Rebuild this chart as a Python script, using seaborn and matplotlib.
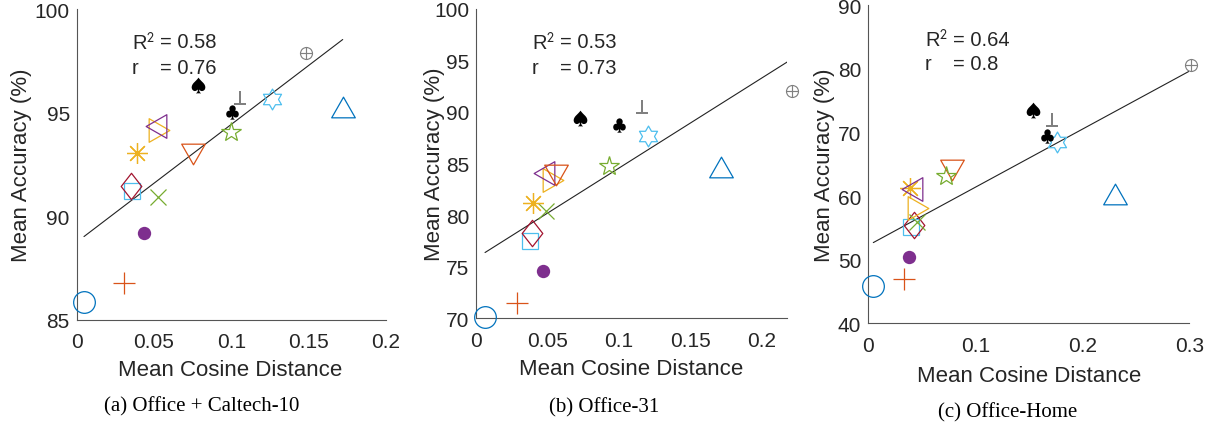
import numpy as np
import pandas as pd
import seaborn as sns
import matplotlib
matplotlib.use('Agg')
import matplotlib.pyplot as plt
from matplotlib.path import Path
from matplotlib.ticker import FuncFormatter

# one entry per method, same order in every panel
# circle, plus, dot, square, diamond, x, asterisk, tri-right, tri-left, tri-down,
# pentagram, hexagram, spade, club, perp, oplus, tri-up
x_oc10 = [0.0047, 0.0308, 0.0437, 0.0360, 0.0351, 0.0528, 0.0390, 0.0530, 0.0511, 0.0750,
          0.0998, 0.1260, 0.0787, 0.1003, 0.1056, 0.1483, 0.1720]
y_oc10 = [85.86, 86.75, 89.21, 91.22, 91.46, 90.93, 93.03, 94.18, 94.34, 92.99,
          94.08, 95.65, 96.33, 95.01, 95.72, 97.87, 95.27]

x_o31 = [0.0061, 0.0283, 0.0469, 0.0376, 0.0391, 0.0488, 0.0399, 0.0539, 0.0476, 0.0560,
         0.0932, 0.1200, 0.0726, 0.1001, 0.1158, 0.2209, 0.1714]
y_o31 = [70.07, 71.46, 74.59, 77.45, 78.28, 80.42, 81.13, 83.40, 84.10, 83.85,
         84.73, 87.70, 89.39, 88.74, 90.46, 92.07, 84.63]

x_oh = [0.0047, 0.0336, 0.0380, 0.0398, 0.0429, 0.0452, 0.0390, 0.0464, 0.0405, 0.0779,
        0.0726, 0.1761, 0.1542, 0.1673, 0.1714, 0.3016, 0.2306]
y_oh = [45.82, 46.97, 50.47, 55.22, 55.49, 55.88, 61.27, 58.13, 61.12, 64.06,
        63.10, 68.46, 73.54, 69.50, 71.97, 80.66, 60.33]

r2_vals = ["0.58", "0.53", "0.64"]
r_vals = ["0.76", "0.73", "0.8"]
captions = ["(a) Office + Caltech-10", "(b) Office-31", "(c) Office-Home"]
xlims = [(0, 0.2), (0, 0.2174), (0, 0.3)]
ylims = [(85, 100), (70, 100), (40, 90)]
xticks = [[0, 0.05, 0.1, 0.15, 0.2], [0, 0.05, 0.1, 0.15, 0.2], [0, 0.1, 0.2, 0.3]]
yticks = [[85, 90, 95, 100], [70, 75, 80, 85, 90, 95, 100], [40, 50, 60, 70, 80, 90]]

# marker shapes (matlab-ish)
def tri(angle):
    v = np.array([[-1.0, -0.875], [1.0, -0.875], [0.0, 0.875], [-1.0, -0.875]])
    a = np.deg2rad(angle)
    rot = np.array([[np.cos(a), -np.sin(a)], [np.sin(a), np.cos(a)]])
    return Path(v @ rot.T, closed=True)

ang = np.deg2rad(90 + 30 * np.arange(13))
rad = np.where(np.arange(13) % 2 == 0, 1.0, 1 / np.sqrt(3))
hexagram = Path(np.c_[rad * np.cos(ang), rad * np.sin(ang)], closed=True)
diamond = Path([[0, 1], [0.78, 0], [0, -1], [-0.78, 0], [0, 1]], closed=True)

blue, orange, yellow, purple = '#0072BD', '#D95319', '#EDB120', '#7E2F8E'
green, lblue, dred, gray = '#77AC30', '#4DBEEE', '#A2142F', '#808080'

styles = [
    dict(marker='o', color=blue, ms=15.6, fill=False),
    dict(marker='+', color=orange, ms=15.6, fill=False),
    dict(marker='o', color=purple, ms=9.6, fill=True),
    dict(marker='s', color=lblue, ms=11.7, fill=False),
    dict(marker=diamond, color=dred, ms=19, fill=False),
    dict(marker='x', color=green, ms=11.5, fill=False),
    dict(marker=(8, 2, 0), color=yellow, ms=15, fill=False),
    dict(marker=tri(-90), color=yellow, ms=17, fill=False),
    dict(marker=tri(90), color=purple, ms=17, fill=False),
    dict(marker=tri(180), color=orange, ms=17, fill=False),
    dict(marker='*', color=green, ms=15, fill=False),
    dict(marker=hexagram, color=lblue, ms=15, fill=False),
    dict(marker=r'$\spadesuit$', color='black', ms=11.3, fill=True),
    dict(marker=r'$\clubsuit$', color='black', ms=10.3, fill=True),
    dict(marker=r'$\perp$', color=gray, ms=9.6, fill=True),
    dict(marker=r'$\oplus$', color=gray, ms=9.5, fill=True),
    dict(marker=tri(0), color=blue, ms=17, fill=False),
]

sns.set_style("white")
plt.rcParams['font.family'] = ['Liberation Sans', 'DejaVu Sans']
plt.rcParams['mathtext.fontset'] = 'stixsans'
txtc = '#262626'

fig = plt.figure(figsize=(12.12, 4.27), dpi=100)
rects = [(0.0633, 0.2489, 0.2552, 0.7276),
         (0.3930, 0.2529, 0.2561, 0.7237),
         (0.7164, 0.2405, 0.2649, 0.7447)]
data = [(x_oc10, y_oc10), (x_o31, y_o31), (x_oh, y_oh)]
cap_pos = [(201.7, 406.5), (604, 408), (1007.5, 413)]
txt_pos = [(131.7, 43, 69), (531.7, 43, 68), (925, 40, 65)]
xlab_pos = [(0.496, -0.159), (0.498, -0.163), (0.5, -0.165)]
ylab_pos = [-0.18, -0.136, -0.136]

for i, (xs, ys) in enumerate(data):
    ax = fig.add_axes(rects[i])
    df = pd.DataFrame({'dist': xs, 'acc': ys})
    sns.regplot(data=df, x='dist', y='acc', scatter=False, ci=None, truncate=True,
                ax=ax, line_kws=dict(color='#222222', lw=0.8))
    for (xv, yv), st in zip(zip(xs, ys), styles):
        if st['fill']:
            ax.plot([xv], [yv], linestyle='none', marker=st['marker'], ms=st['ms'],
                    mfc=st['color'], mec=st['color'], mew=0, clip_on=False, zorder=3)
        else:
            ax.plot([xv], [yv], linestyle='none', marker=st['marker'], ms=st['ms'],
                    mfc='none', mec=st['color'], mew=0.9, clip_on=False, zorder=3)
    ax.set_xlim(*xlims[i])
    ax.set_ylim(*ylims[i])
    ax.set_xticks(xticks[i])
    ax.set_yticks(yticks[i])
    ax.xaxis.set_major_formatter(FuncFormatter(lambda v, p: '{:g}'.format(v)))
    ax.tick_params(direction='in', length=4, width=0.6, colors='#555555',
                   labelcolor=txtc, labelsize=15)
    ax.tick_params(axis='x', pad=9)
    ax.tick_params(axis='y', pad=5)
    sns.despine(ax=ax)
    for s in ['left', 'bottom']:
        ax.spines[s].set_color('#555555')
        ax.spines[s].set_linewidth(0.8)
    ax.set_xlabel('Mean Cosine Distance', fontsize=16, color=txtc, va='center')
    ax.set_ylabel('Mean Accuracy (%)', fontsize=16, color=txtc, va='center')
    ax.xaxis.set_label_coords(*xlab_pos[i])
    ax.yaxis.set_label_coords(ylab_pos[i], 0.5)

    px, py1, py2 = txt_pos[i]
    fx = px / 1212
    fig.text(fx, 1 - py1 / 427, 'R$^2$', fontsize=14.5, color=txtc, va='center')
    fig.text(fx + 28 / 1212, 1 - py1 / 427, '= ' + r2_vals[i], fontsize=14.5, color=txtc, va='center')
    fig.text(fx, 1 - py2 / 427, 'r', fontsize=14.5, color=txtc, va='center')
    fig.text(fx + 28 / 1212, 1 - py2 / 427, '= ' + r_vals[i], fontsize=14.5, color=txtc, va='center')

    cx, cy = cap_pos[i]
    fig.text(cx / 1212, 1 - cy / 427, captions[i], ha='center', va='center',
             fontsize=15, family='Liberation Serif', color='black')

fig.savefig('out.png', dpi=100)
